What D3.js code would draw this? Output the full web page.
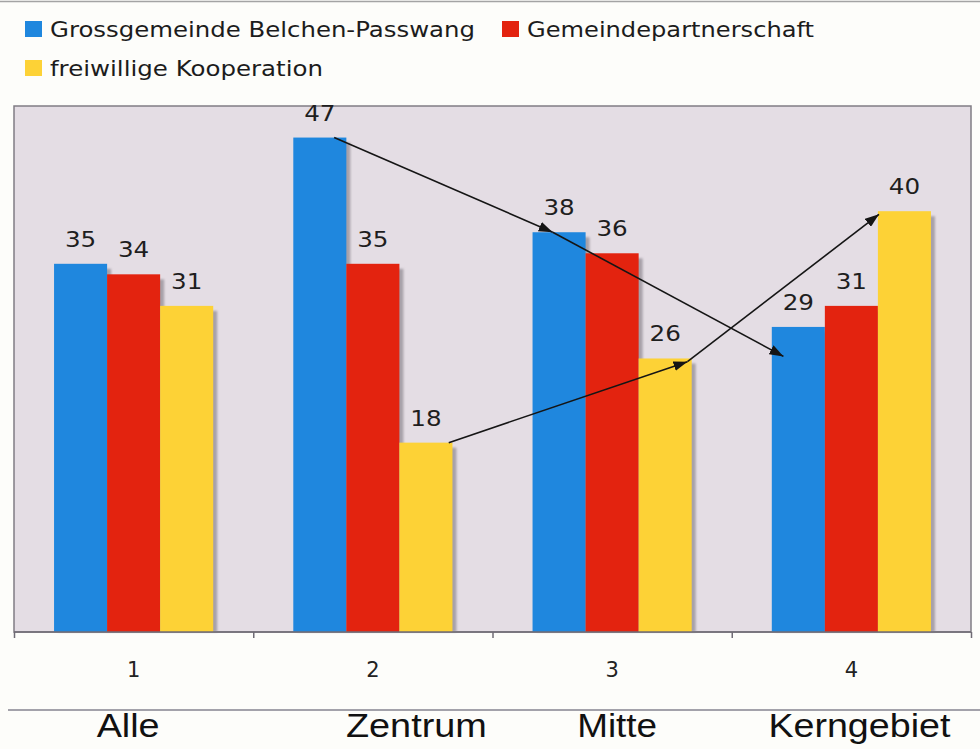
<!DOCTYPE html>
<html>
<head>
<meta charset="utf-8">
<script src="https://cdn.jsdelivr.net/npm/d3@7"></script>
<style>
  html, body { margin: 0; padding: 0; background: #fdfdfa; }
  svg { display: block; }
</style>
</head>
<body>
<svg id="chart" width="980" height="749"></svg>
<script>
// Survey results per area, three forms of municipal cooperation
const categories = ["1", "2", "3", "4"];
const areaNames = ["Alle", "Zentrum", "Mitte", "Kerngebiet"];
const seriesNames = ["Grossgemeinde Belchen-Passwang", "Gemeindepartnerschaft", "freiwillige Kooperation"];
const grossgemeinde = [35, 47, 38, 29];
const partnerschaft = [34, 35, 36, 31];
const kooperation = [31, 18, 26, 40];
const seriesValues = [grossgemeinde, partnerschaft, kooperation];

// Trend arrows: [category, series, position across bar, value] -> [...]
const trendFrom = [[1, 0, 0.77, 47], [2, 0, 0.38, 38], [1, 2, 0.93, 18], [2, 2, 0.92, 25.7]];
const trendTo   = [[2, 0, 0.38, 38], [3, 0, 0.22, 26.2], [2, 2, 0.92, 25.7], [3, 2, 0.02, 39.7]];

const colors = ["#1f87de", "#e3230f", "#fdd236"];

const svg = d3.select("#chart");
const plot = { left: 14, right: 971, top: 106, bottom: 632 };

const x0 = d3.scaleBand().domain(categories).range([plot.left, plot.right]).padding(0);
const x1 = d3.scaleBand().domain(d3.range(seriesNames.length))
  .range([0, x0.bandwidth()]).paddingInner(0).paddingOuter(0.755);
const y = d3.scaleLinear().domain([0, 50]).range([plot.bottom, plot.top]);
const boundary = d3.scaleLinear().domain([0, categories.length]).range([plot.left, plot.right]);

// rule along the very top
svg.append("line").attr("x1", 0).attr("x2", 980).attr("y1", 1.5).attr("y2", 1.5)
  .attr("stroke", "#a4a4a4").attr("stroke-width", 1.5);

// legend
const legendPos = [[25, 21], [502, 21], [25, 60]];
const legendWidth = [425, 287, 273];
const legend = svg.append("g");
seriesNames.forEach((name, i) => {
  const [lx, ly] = legendPos[i];
  legend.append("rect").attr("x", lx).attr("y", ly).attr("width", 17).attr("height", 16)
    .attr("fill", colors[i]);
  legend.append("text").attr("x", lx + 25).attr("y", ly + 16)
    .attr("font-family", "DejaVu Sans, Verdana, sans-serif").attr("font-size", 20.5)
    .attr("fill", "#1c1c1c")
    .attr("textLength", legendWidth[i]).attr("lengthAdjust", "spacingAndGlyphs")
    .text(name);
});

// plot background and frame
svg.append("rect").attr("x", plot.left).attr("y", plot.top)
  .attr("width", plot.right - plot.left).attr("height", plot.bottom - plot.top)
  .attr("fill", "#e4dde4").attr("stroke", "#807c84").attr("stroke-width", 1.5);

const defs = svg.append("defs");
defs.append("filter").attr("id", "soft").attr("x", "-20%").attr("y", "-20%")
  .attr("width", "140%").attr("height", "140%")
  .append("feGaussianBlur").attr("stdDeviation", 1.2);
defs.append("marker").attr("id", "head").attr("viewBox", "0 0 14 10")
  .attr("refX", 14).attr("refY", 5).attr("markerWidth", 14).attr("markerHeight", 10)
  .attr("markerUnits", "userSpaceOnUse").attr("orient", "auto")
  .append("path").attr("d", "M0,0 L14,5 L0,10 Z").attr("fill", "#151515");

const flat = [];
categories.forEach((c, ci) => seriesValues.forEach((vals, si) => flat.push({ c, ci, si, v: vals[ci] })));

// bar shadows, then bars
const bars = svg.append("g");
bars.selectAll("rect.shadow").data(flat).join("rect").attr("class", "shadow")
  .attr("x", d => x0(d.c) + x1(d.si) + 4).attr("y", d => y(d.v) + 5)
  .attr("width", x1.bandwidth()).attr("height", d => y(0) - y(d.v) - 5)
  .attr("fill", "#a7a1a9").attr("filter", "url(#soft)");
bars.selectAll("rect.bar").data(flat).join("rect").attr("class", "bar")
  .attr("x", d => x0(d.c) + x1(d.si)).attr("y", d => y(d.v))
  .attr("width", x1.bandwidth()).attr("height", d => y(0) - y(d.v))
  .attr("fill", d => colors[d.si]);

// redraw bottom edge of the frame over the shadows
svg.append("line").attr("x1", plot.left).attr("x2", plot.right)
  .attr("y1", plot.bottom).attr("y2", plot.bottom)
  .attr("stroke", "#6f6b74").attr("stroke-width", 1.5);

// value labels
svg.append("g").selectAll("text").data(flat).join("text")
  .attr("transform", d => `translate(${x0(d.c) + x1(d.si) + x1.bandwidth() / 2},${y(d.v) - 17}) scale(1.12,1)`)
  .attr("text-anchor", "middle")
  .attr("font-family", "DejaVu Sans, Verdana, sans-serif").attr("font-size", 22)
  .attr("fill", "#1e1e1e")
  .text(d => d.v);

// trend arrows
const px = p => x0(categories[p[0]]) + x1(p[1]) + p[2] * x1.bandwidth();
svg.append("g").selectAll("line").data(trendFrom.map((f, i) => [f, trendTo[i]])).join("line")
  .attr("x1", d => px(d[0])).attr("y1", d => y(d[0][3]))
  .attr("x2", d => px(d[1])).attr("y2", d => y(d[1][3]))
  .attr("stroke", "#151515").attr("stroke-width", 1.6)
  .attr("marker-end", "url(#head)");

// category axis: ticks on the group boundaries, numbers centred in each group
const tickAxis = d3.axisBottom(boundary).tickValues(d3.range(categories.length + 1))
  .tickSize(6).tickFormat("");
const tg = svg.append("g").attr("transform", `translate(0,${plot.bottom})`).call(tickAxis);
tg.select(".domain").remove();
tg.selectAll("line").attr("stroke", "#6f6b74").attr("stroke-width", 1.5);

const labelAxis = d3.axisBottom(x0).tickSize(0).tickPadding(30);
const lg = svg.append("g").attr("transform", `translate(0,${plot.bottom})`).call(labelAxis);
lg.select(".domain").remove();
lg.selectAll("text").attr("font-family", "DejaVu Sans, Verdana, sans-serif")
  .attr("font-size", 21).attr("fill", "#222");

// area names under a separating rule
svg.append("line").attr("x1", 8).attr("x2", 980).attr("y1", 710).attr("y2", 710)
  .attr("stroke", "#85838f").attr("stroke-width", 1.5);
const nameShift = [-5.5, 43.5, 5, 8];
const nameWidth = [63, 141, 80, 182];
svg.append("g").selectAll("text").data(areaNames).join("text")
  .attr("x", (d, i) => x0(categories[i]) + x0.bandwidth() / 2 + nameShift[i] - nameWidth[i] / 2)
  .attr("y", 737)
  .attr("font-family", "Liberation Sans, Arial, sans-serif").attr("font-size", 33)
  .attr("fill", "#111")
  .attr("textLength", (d, i) => nameWidth[i]).attr("lengthAdjust", "spacingAndGlyphs")
  .text(d => d);
</script>
</body>
</html>
